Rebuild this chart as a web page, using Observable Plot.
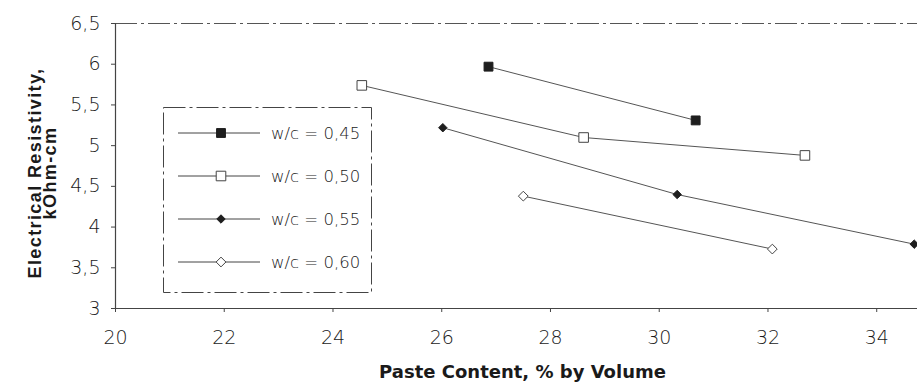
<!DOCTYPE html>
<html>
<head>
<meta charset="utf-8">
<script src="https://cdn.jsdelivr.net/npm/d3@7"></script>
<script src="https://cdn.jsdelivr.net/npm/@observablehq/plot@0.6"></script>
<style>
  html, body { margin: 0; padding: 0; background: #fff; }
  #wrap { position: relative; width: 917px; height: 385px; overflow: hidden; }
  #wrap svg.plot { position: absolute; left: 0; top: 0; }
  #legend { position: absolute; left: 163px; top: 107px; }
</style>
</head>
<body>
<div id="wrap"></div>
<script>
// ---- data ----
const seriesNames = ["w/c = 0,45", "w/c = 0,50", "w/c = 0,55", "w/c = 0,60"];
const paste045 = [26.86, 30.67];
const resist045 = [5.97, 5.31];
const paste050 = [24.53, 28.61, 32.68];
const resist050 = [5.74, 5.10, 4.88];
const paste055 = [26.02, 30.33, 34.69];
const resist055 = [5.22, 4.40, 3.79];
const paste060 = [27.50, 32.08];
const resist060 = [4.38, 3.73];
const xTicks = [20, 22, 24, 26, 28, 30, 32, 34];
const yTicks = [3, 3.5, 4, 4.5, 5, 5.5, 6, 6.5];
const xLabel = "Paste Content, % by Volume";
const yLabel = "Electrical Resistivity,\nkOhm-cm";

// ---- styles ----
const styles = [
  {symbol: "square",   fill: "#1e1e1e", stroke: "#1e1e1e", r: 5.0},
  {symbol: "square",   fill: "#ffffff", stroke: "#444",    r: 5.4},
  {symbol: "diamond2", fill: "#1e1e1e", stroke: "#1e1e1e", r: 3.8},
  {symbol: "diamond2", fill: "#ffffff", stroke: "#444",    r: 4.4}
];
const xs = [paste045, paste050, paste055, paste060];
const ys = [resist045, resist050, resist055, resist060];
const series = seriesNames.map((name, i) => ({
  name,
  rows: xs[i].map((x, j) => ({x, y: ys[i][j]})),
  ...styles[i]
}));

const fmt = d => String(d).replace(".", ",");
const tickFont = "DejaVu Sans";

const marks = [
  Plot.ruleY([6.5], {stroke: "#555", strokeWidth: 1, strokeDasharray: "22,4,3,4"}),
  Plot.ruleX([20], {stroke: "#444", strokeWidth: 1.2}),
  Plot.ruleY([3], {stroke: "#444", strokeWidth: 1.2}),
  Plot.axisX({ticks: xTicks, tickFormat: d => d, tickSize: 4, tickPadding: 18,
    fontSize: 19, fontFamily: tickFont, fontWeight: 300, fill: "#1a1a1a", stroke: "#444", label: null}),
  Plot.axisY({ticks: yTicks, tickFormat: fmt, tickSize: 4, tickPadding: 11,
    fontSize: 19, fontFamily: tickFont, fontWeight: 300, fill: "#1a1a1a", stroke: "#444", label: null}),
];
for (const s of series) {
  marks.push(Plot.line(s.rows, {x: "x", y: "y", stroke: "#555", strokeWidth: 1}));
}
for (const s of series) {
  marks.push(Plot.dot(s.rows, {x: "x", y: "y", symbol: s.symbol, r: s.r, fill: s.fill, stroke: s.stroke, strokeWidth: 1}));
}
marks.push(Plot.text([xLabel], {frameAnchor: "bottom", dx: 6, dy: 69, fontSize: 18, fontWeight: "bold",
  fontFamily: "DejaVu Sans", fill: "#1a1a1a"}));
marks.push(Plot.text([yLabel], {frameAnchor: "left", dx: -72, dy: 7, rotate: -90, textAnchor: "middle",
  lineAnchor: "middle", lineHeight: 0.82, fontSize: 18, fontWeight: "bold", fontFamily: "Liberation Sans",
  fill: "#1a1a1a"}));

const chart = Plot.plot({
  width: 917,
  height: 385,
  marginLeft: 115,
  marginRight: 0,
  marginTop: 23,
  marginBottom: 77,
  x: {domain: [20, 34.75]},
  y: {domain: [3, 6.5]},
  style: {background: "#fff", overflow: "visible"},
  marks
});
chart.classList.add("plot");
d3.select(chart).selectAll("text")
  .filter(function() { return this.textContent.includes("kOhm"); })
  .attr("letter-spacing", "1.4px");
document.getElementById("wrap").appendChild(chart);

// ---- legend ----
const lw = 208, lh = 185;
const rowY = [26, 69, 112, 155];
const leg = d3.select("#wrap").append("svg").attr("id", "legend")
  .attr("width", lw + 2).attr("height", lh + 2);
leg.append("rect").attr("x", 0.5).attr("y", 0.5).attr("width", lw).attr("height", lh)
  .attr("fill", "#fff").attr("stroke", "#444").attr("stroke-width", 1)
  .attr("stroke-dasharray", "22,4,3,4");
const symMap = {square: d3.symbolSquare, diamond2: d3.symbolDiamond2};
series.forEach((s, i) => {
  const g = leg.append("g").attr("transform", `translate(0,${rowY[i]})`);
  g.append("line").attr("x1", 15).attr("x2", 97).attr("y1", 0).attr("y2", 0)
    .attr("stroke", "#444").attr("stroke-width", 1);
  g.append("path").attr("transform", "translate(58,0)")
    .attr("d", d3.symbol(symMap[s.symbol], Math.PI * s.r * s.r)())
    .attr("fill", s.fill).attr("stroke", s.stroke).attr("stroke-width", 1);
  g.append("text").attr("x", 108).attr("y", 0).attr("dy", "0.35em")
    .attr("font-family", tickFont).attr("font-weight", 300).attr("font-size", 16.5)
    .attr("fill", "#1a1a1a").text(s.name);
});
</script>
</body>
</html>
